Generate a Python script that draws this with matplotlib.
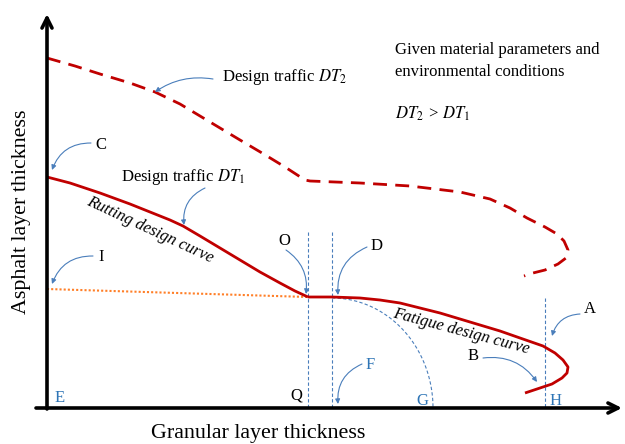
import numpy as np
import matplotlib
matplotlib.use("Agg")
import matplotlib.pyplot as plt

# ── Curves (figure pixel coords, y down) ─────────────────────
rut_x = [47, 70, 100, 130, 150, 170, 183, 200, 220, 240, 260, 280, 295, 308]
rut_y = [177, 183, 193, 204, 212, 220, 226, 236, 248, 260, 272, 283, 291, 297]

fat_x = [308, 332, 360, 380, 400, 420, 440, 460, 480, 500, 520, 543, 555,
         563, 568, 567, 562, 552, 540, 525]
fat_y = [297, 297, 298, 300, 303, 308, 313, 319, 325, 331, 338, 346, 353,
         360, 367, 373, 378, 384, 388, 393]

dt2_x = [47, 75, 100, 130, 155, 180, 200, 220, 240, 262, 285, 305, 310, 360,
         410, 460, 490, 510, 527, 545, 557, 564, 568, 566, 558, 545, 533, 524]
dt2_y = [58, 66, 74, 83, 92, 104, 116, 128, 140, 153, 167, 180, 181, 183,
         186, 192, 199, 208, 218, 227, 234, 241, 250, 258, 264, 270, 273, 276]

thr_x = [47, 308]
thr_y = [289, 297]

vlines_x = [308, 332, 545]
vlines_top = [232, 232, 298]

# quarter arc from D down to G
arc_cx, arc_cy = 332, 408
arc_rx, arc_ry = 101, 110

RED = "#c00000"
BLUE = "#4a7ebb"
LBLUE = "#2e75b6"
SERIF = ["Liberation Serif", "DejaVu Serif"]

fig = plt.figure(figsize=(6.25, 4.44), dpi=100)
ax = fig.add_axes([0, 0, 1, 1])
ax.set_xlim(0, 625)
ax.set_ylim(444, 0)
ax.axis("off")

# ── axes arrows ──────────────────────────────────────────────
ax.annotate("", xy=(47, 14), xytext=(47, 409),
            arrowprops=dict(arrowstyle="->", lw=2.6, color="black",
                            mutation_scale=18, shrinkA=0, shrinkB=0))
ax.annotate("", xy=(622, 408), xytext=(36, 408),
            arrowprops=dict(arrowstyle="->", lw=2.6, color="black",
                            mutation_scale=18, shrinkA=0, shrinkB=0))

# ── guide lines ──────────────────────────────────────────────
for x, top in zip(vlines_x, vlines_top):
    ax.plot([x, x], [top, 408], color=BLUE, lw=0.8, ls=(0, (3, 2)))
t = np.linspace(0, np.pi / 2, 60)
ax.plot(arc_cx + arc_rx * np.sin(t), arc_cy - arc_ry * np.cos(t),
        color=BLUE, lw=0.8, ls=(0, (3, 2)))

ax.plot(thr_x, thr_y, color="#ff7f27", lw=1.5, ls=(0, (1, 1)))

# ── design curves ────────────────────────────────────────────
ax.plot(rut_x, rut_y, color=RED, lw=2.0, solid_capstyle="butt",
        solid_joinstyle="round")
ax.plot(fat_x, fat_y, color=RED, lw=2.0, solid_capstyle="butt",
        solid_joinstyle="round")
ax.plot(dt2_x, dt2_y, color=RED, lw=2.0, dashes=(5, 3))

# ── text ─────────────────────────────────────────────────────
fs = 12
ax.text(22, 212, "Asphalt layer thickness", rotation=90, ha="center",
        va="center", fontsize=15.8, family=SERIF)
ax.text(258, 433, "Granular layer thickness", ha="center", va="center",
        fontsize=15.8, family=SERIF)

ax.text(395, 50, "Given material parameters and", fontsize=fs,
        family=SERIF, va="center")
ax.text(395, 72, "environmental conditions", fontsize=fs,
        family=SERIF, va="center")
ax.text(395, 114, r"$DT_2$ > $DT_1$", fontsize=fs, family=SERIF,
        va="center", math_fontfamily="stix", style="italic")

ax.text(222, 77, r"Design traffic $DT_2$", fontsize=fs, family=SERIF,
        va="center", math_fontfamily="stix")
ax.text(121, 177, r"Design traffic $DT_1$", fontsize=fs, family=SERIF,
        va="center", math_fontfamily="stix")

ax.text(150, 230, "Rutting design curve", rotation=-25, fontsize=fs,
        family=SERIF, style="italic", ha="center", va="center")
ax.text(461, 331, "Fatigue design curve", rotation=-15, fontsize=fs,
        family=SERIF, style="italic", ha="center", va="center")

black_labels = [("C", 101, 145), ("I", 101, 257), ("O", 284, 241),
                ("D", 377, 246), ("A", 590, 309), ("B", 473, 356),
                ("Q", 296, 395)]
for s, x, y in black_labels:
    ax.text(x, y, s, fontsize=fs, family=SERIF, ha="center", va="center")

blue_labels = [("E", 60, 398), ("F", 370, 365), ("G", 422, 401),
               ("H", 556, 401)]
for s, x, y in blue_labels:
    ax.text(x, y, s, fontsize=fs, family=SERIF, ha="center", va="center",
            color=LBLUE)

# ── pointer arrows ───────────────────────────────────────────
pointers = [((91, 143), (52, 170), 0.35),
            ((93, 256), (52, 284), 0.35),
            ((286, 250), (306, 294), -0.3),
            ((367, 247), (338, 295), 0.35),
            ((580, 314), (552, 336), 0.35),
            ((483, 358), (537, 382), -0.3),
            ((362, 364), (338, 404), 0.35),
            ((213, 79), (155, 92), 0.2),
            ((205, 188), (184, 225), 0.35)]
for (x0, y0), (x1, y1), rad in pointers:
    ax.annotate("", xy=(x1, y1), xytext=(x0, y0),
                arrowprops=dict(arrowstyle="-|>", lw=0.8, color=BLUE,
                                mutation_scale=7, shrinkA=0, shrinkB=0,
                                connectionstyle=f"arc3,rad={rad}"))

fig.savefig("out.png", dpi=100)
